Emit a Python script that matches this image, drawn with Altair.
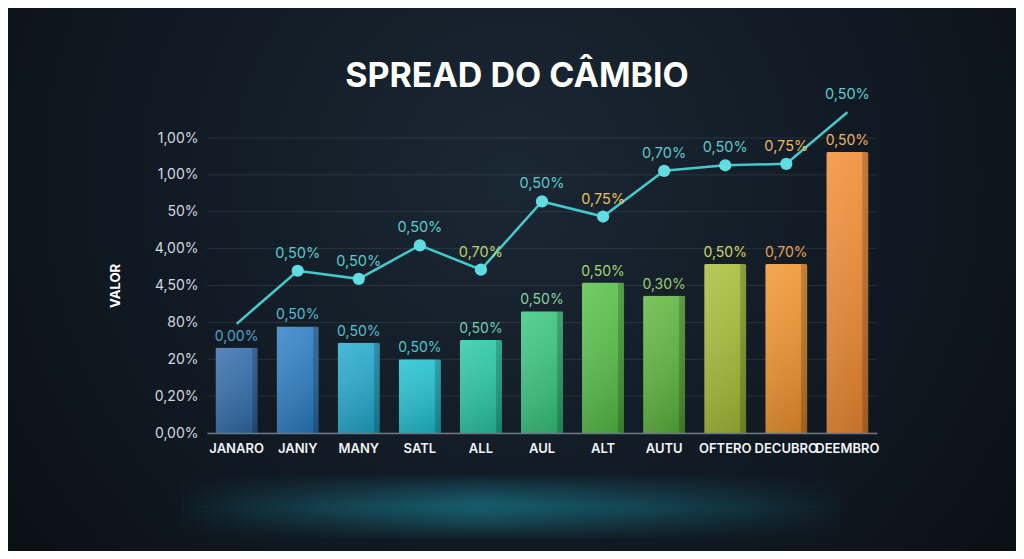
import altair as alt
import pandas as pd

months = ["JANARO", "JANIY", "MANY", "SATL", "ALL", "AUL", "ALT", "AUTU",
          "OFTERO", "DECUBRO", "DEEMBRO"]
bar_values = [2.31, 2.89, 2.45, 2.0, 2.52, 3.3, 4.08, 3.72, 4.58, 4.58, 7.62]
bar_labels = ["0,00%", "0,50%", "0,50%", "0,50%", "0,50%", "0,50%", "0,50%",
              "0,30%", "0,50%", "0,70%", "0,50%"]
line_values = [2.96, 4.4, 4.18, 5.09, 4.43, 6.28, 5.87, 7.11, 7.26, 7.3, 8.7]
line_labels = ["", "0,50%", "0,50%", "0,50%", "0,70%", "0,50%", "0,75%",
               "0,70%", "0,50%", "0,75%", "0,50%"]
show_dot = [False] + [True] * 9 + [False]
y_ticks = list(range(9))
y_tick_labels = ["0,00%", "0,20%", "20%", "80%", "4,50%", "4,00%", "50%",
                 "1,00%", "1,00%"]
title_text = "SPREAD DO CÂMBIO"

bar_colors = ["#2f6aaa", "#2a7cc2", "#20a8cc", "#1ebfcf", "#26c6a4", "#36c47c",
              "#55be45", "#5db43c", "#a6bc35", "#f0922c", "#f08a30"]
bar_label_colors = ["#4fa3cf", "#52bcd6", "#4fc3d4", "#4fc8d0", "#6fd3b0",
                    "#86d69a", "#a5d672", "#9ccf6a", "#d6d45a", "#eea052",
                    "#f2b464"]
line_label_colors = ["#5ccbd0", "#5ccbd0", "#5ccbd0", "#5ccbd0", "#b9d46a",
                     "#5ccbd0", "#e7c25a", "#5ccbd0", "#5ccbd0", "#e6b860",
                     "#5ccbd0"]

df = pd.DataFrame({
    "month": months,
    "bar": bar_values,
    "bar_label": bar_labels,
    "bar_lc": bar_label_colors,
    "line": line_values,
    "line_label": line_labels,
    "line_lc": line_label_colors,
    "dot": show_dot,
})
grid_df = pd.DataFrame({"v": y_ticks})

W, H = 670, 295
PAD = {"left": 199, "right": 139, "top": 130, "bottom": 118}

x_axis = alt.Axis(title=None, labelAngle=0, labelColor="#f2f4f7",
                  labelFontSize=13, labelFontWeight=600, labelPadding=9,
                  ticks=False, domainColor="#6b7785", domainWidth=1.5,
                  grid=False, zindex=1, labelOverlap=False)
y_axis = alt.Axis(title="VALOR", values=y_ticks,
                  labelExpr=str(y_tick_labels) + "[datum.value]",
                  labelColor="#d3d9e0", labelFontSize=14, labelPadding=9,
                  ticks=False, domain=False, grid=False, zindex=1,
                  labelOverlap=False, titleColor="#ffffff", titleFontSize=13,
                  titleFontWeight="bold", titlePadding=32)
x_scale = alt.Scale(paddingInner=0.31, paddingOuter=0.14)
y_scale = alt.Scale(domain=[0, 8], nice=False)


def X():
    return alt.X("month:N", sort=months, scale=x_scale, axis=x_axis)


def Y(field):
    return alt.Y(field, scale=y_scale, axis=y_axis, title="VALOR")


# background vignette
bg = alt.Chart(alt.Data(values=[{}])).mark_rect(
    color={"gradient": "radial", "x1": 0.5, "y1": 0.4, "r1": 0,
           "x2": 0.5, "y2": 0.4, "r2": 0.75,
           "stops": [{"offset": 0, "color": "#1a2734"},
                     {"offset": 1, "color": "#070b10"}]}
).encode(x=alt.value(-PAD["left"]), x2=alt.value(W + PAD["right"]),
         y=alt.value(-PAD["top"]), y2=alt.value(H + PAD["bottom"]))

# soft teal glow under the chart, built from stacked faded strips
glow_layers = []
for i in range(14):
    half = 32 - i * 2.2
    glow_layers.append(alt.Chart(alt.Data(values=[{}])).mark_rect(
        color={"gradient": "linear", "x1": 0, "y1": 0, "x2": 1, "y2": 0,
               "stops": [{"offset": 0, "color": "rgba(30,150,170,0)"},
                         {"offset": 0.45, "color": "rgba(30,150,170,0.05)"},
                         {"offset": 1, "color": "rgba(30,150,170,0)"}]}
    ).encode(x=alt.value(-40), x2=alt.value(650),
             y=alt.value(369 - half), y2=alt.value(369 + half)))

grid = alt.Chart(grid_df).mark_rule(color="#ffffff", opacity=0.09,
                                    strokeWidth=1).encode(y=Y("v:Q"))

title = alt.Chart(alt.Data(values=[{"t": title_text}])).mark_text(
    font="Inter", fontSize=34, fontWeight="bold", color="#ffffff",
    baseline="alphabetic", align="center").encode(
    x=alt.value(310), y=alt.value(-51), text="t:N")

base = alt.Chart(df)

bars = base.mark_bar(cornerRadiusTopLeft=2, cornerRadiusTopRight=2).encode(
    x=X(), y=Y("bar:Q"),
    color=alt.Color("month:N", scale=alt.Scale(domain=months, range=bar_colors),
                    legend=None))

shade_v = base.mark_bar(
    color={"gradient": "linear", "x1": 0, "y1": 0, "x2": 0, "y2": 1,
           "stops": [{"offset": 0, "color": "rgba(255,255,255,0.12)"},
                     {"offset": 1, "color": "rgba(0,0,0,0.18)"}]}
).encode(x=X(), y=Y("bar:Q"))

shade_h = base.mark_bar(
    color={"gradient": "linear", "x1": 0, "y1": 0, "x2": 1, "y2": 0,
           "stops": [{"offset": 0, "color": "rgba(255,255,255,0.08)"},
                     {"offset": 0.85, "color": "rgba(255,255,255,0)"},
                     {"offset": 0.86, "color": "rgba(0,0,0,0.18)"},
                     {"offset": 1, "color": "rgba(0,0,0,0.22)"}]}
).encode(x=X(), y=Y("bar:Q"))

bar_text = base.mark_text(baseline="bottom", dy=-4, fontSize=14,
                          font="Inter").encode(
    x=X(), y=Y("bar:Q"),
    text="bar_label:N", color=alt.Color("bar_lc:N", scale=None))

line = base.mark_line(color="#45c9cc", strokeWidth=2.5).encode(
    x=X(), y=Y("line:Q"))

dots = base.transform_filter("datum.dot").mark_circle(
    size=150, color="#5fdde2", opacity=1).encode(x=X(), y=Y("line:Q"))

line_text = base.mark_text(baseline="bottom", dy=-10, fontSize=14.5,
                           font="Inter").encode(
    x=X(), y=Y("line:Q"),
    text="line_label:N", color=alt.Color("line_lc:N", scale=None))

chart = alt.layer(bg, *glow_layers, grid, title, bars, shade_v, shade_h,
                  bar_text, line, dots, line_text).resolve_scale(
    color="independent").properties(
    width=W, height=H,
    autosize=alt.AutoSizeParams(type="none"),
    padding=PAD,
    background="#0b1118",
).configure_view(stroke=None).configure_axis(labelFont="Inter",
                                             titleFont="Inter")

chart.save("out.html", embed_options={"renderer": "svg", "actions": False})
